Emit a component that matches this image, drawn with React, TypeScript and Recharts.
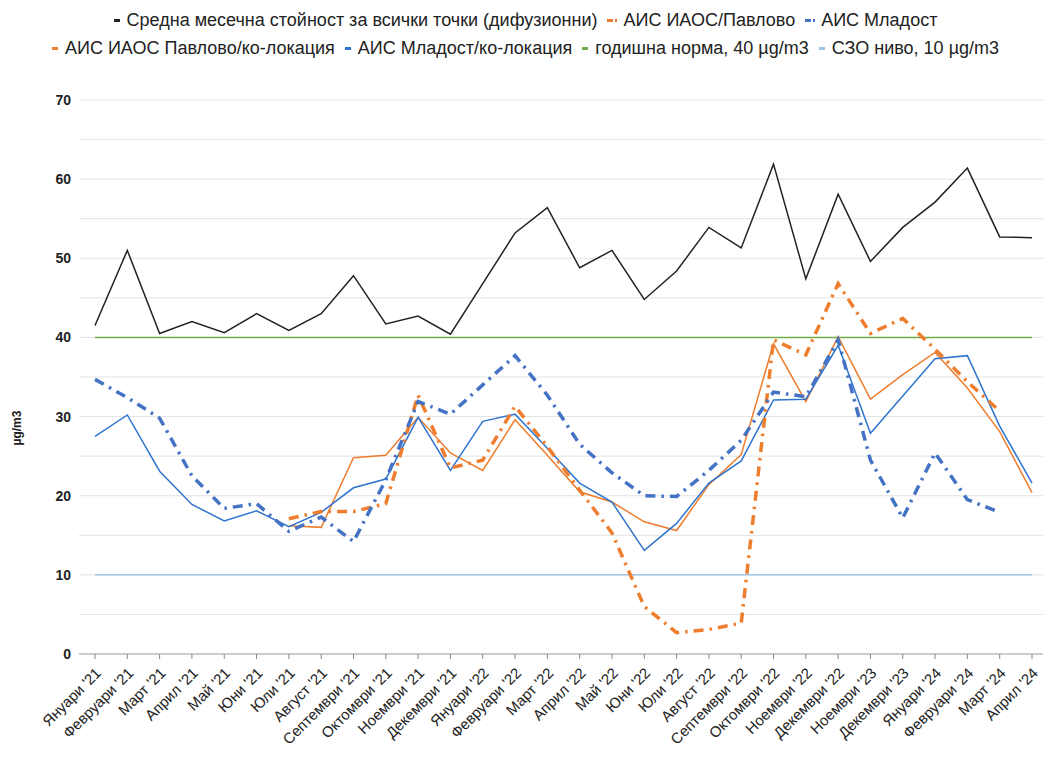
import React from 'react';
import { LineChart, Line, XAxis, YAxis, CartesianGrid } from 'recharts';

const months = [
  "Януари '21", "Февруари '21", "Март '21", "Април '21", "Май '21", "Юни '21",
  "Юли '21", "Август '21", "Септември '21", "Октомври '21", "Ноември '21", "Декември '21",
  "Януари '22", "Февруари '22", "Март '22", "Април '22", "Май '22", "Юни '22",
  "Юли '22", "Август '22", "Септември '22", "Октомври '22", "Ноември '22", "Декември '22",
  "Ноември '23", "Декември '23", "Януари '24", "Февруари '24", "Март '24", "Април '24",
];

const diffusionAvg = [
  41.5, 51.0, 40.5, 42.0, 40.6, 43.0, 40.9, 43.0, 47.8, 41.7, 42.7, 40.4,
  46.8, 53.2, 56.4, 48.8, 51.0, 44.8, 48.4, 53.9, 51.3, 61.9, 47.4, 58.1,
  49.6, 53.9, 57.1, 61.4, 52.7, 52.6,
];

const pavlovoAis = [
  null, null, null, null, null, null, 17.1, 18.0, 18.0, 19.0, 32.7, 23.5,
  24.5, 31.3, 26.2, 20.7, 15.3, 6.0, 2.7, 3.1, 3.9, 39.7, 37.8, 46.8,
  40.5, 42.4, 38.5, 34.4, 30.7, null,
];

const mladostAis = [
  34.7, 32.4, 29.8, 22.5, 18.4, 19.0, 15.5, 17.3, 14.2, 22.0, 31.9, 30.3,
  34.0, 37.7, 32.7, 26.5, 22.9, 20.0, 19.9, 23.2, 27.0, 33.1, 32.5, 39.7,
  24.5, 17.2, 25.4, 19.5, 17.9, null,
];

const pavlovoColoc = [
  null, null, null, null, null, null, 16.2, 16.0, 24.8, 25.1, 29.9, 25.4,
  23.2, 29.6, 25.1, 20.5, 19.2, 16.7, 15.6, 21.4, 25.2, 39.2, 31.9, 40.1,
  32.2, 35.3, 38.1, 33.6, 28.1, 20.4,
];

const mladostColoc = [
  27.5, 30.2, 23.1, 18.9, 16.8, 18.1, 16.1, 17.9, 21.0, 22.1, 29.9, 23.2,
  29.4, 30.3, 26.0, 21.6, 19.2, 13.1, 16.5, 21.6, 24.4, 32.1, 32.2, 39.0,
  27.9, 32.6, 37.3, 37.7, 28.8, 21.6,
];

const annualNorm = months.map(() => 40);
const whoLevel = months.map(() => 10);

const data = months.map((m, i) => ({
  month: m,
  avg: diffusionAvg[i],
  pavlovo: pavlovoAis[i],
  mladost: mladostAis[i],
  pavlovoColoc: pavlovoColoc[i],
  mladostColoc: mladostColoc[i],
  norm: annualNorm[i],
  who: whoLevel[i],
}));

const BLACK = '#222222';
const ORANGE = '#EF7D2E';
const BLUE_DASH = '#4472C4';
const BLUE = '#2F75CF';
const GREEN = '#70AD47';
const LIGHT_BLUE = '#9DC3E6';

const DASH = '10 6 2.5 6';
const FONT = "'Liberation Sans', Arial, sans-serif";

const legendRows = [
  [
    { name: 'Средна месечна стойност за всички точки (дифузионни)', color: BLACK, dashed: false },
    { name: 'АИС ИАОС/Павлово', color: ORANGE, dashed: true },
    { name: 'АИС Младост', color: BLUE_DASH, dashed: true },
  ],
  [
    { name: 'АИС ИАОС Павлово/ко-локация', color: ORANGE, dashed: false },
    { name: 'АИС Младост/ко-локация', color: BLUE, dashed: false },
    { name: 'годишна норма, 40 µg/m3', color: GREEN, dashed: false },
    { name: 'СЗО ниво, 10 µg/m3', color: LIGHT_BLUE, dashed: false },
  ],
];

const MonthTick = (props: any) => {
  const { x, y, payload } = props;
  return (
    <g transform={`translate(${x + 7},${y + 13})`}>
      <text x={0} y={0} transform="rotate(-45)" textAnchor="end" fill="#222" fontSize={15} fontFamily={FONT}>
        {payload.value}
      </text>
    </g>
  );
};

const App = () => {
  return (
    <div style={{ position: 'absolute', left: 0, top: 0, width: 1043, height: 761, background: '#fff' }}>
      <div
        style={{
          position: 'absolute',
          top: 6,
          left: 0,
          width: 1043,
          fontFamily: FONT,
          fontSize: 18,
          color: '#222',
        }}
      >
        {legendRows.map((row, ri) => (
          <div
            key={ri}
            style={{ display: 'flex', justifyContent: 'center', height: 28, alignItems: 'center', paddingLeft: 8 }}
          >
            {row.map((it) => (
              <div key={it.name} style={{ display: 'flex', alignItems: 'center', margin: '0 5px' }}>
                <span style={{ display: 'inline-block', width: 6, height: 3, background: it.color }} />
                {it.dashed && (
                  <span style={{ display: 'inline-block', width: 2, height: 3, marginLeft: 2, background: it.color }} />
                )}
                <span style={{ marginLeft: it.dashed ? 6 : 7 }}>{it.name}</span>
              </div>
            ))}
          </div>
        ))}
      </div>
      <LineChart
        width={1043}
        height={761}
        data={data}
        margin={{ top: 100, right: 0, bottom: 0, left: 0 }}
        style={{ position: 'absolute', left: 0, top: 0 }}
      >
        <CartesianGrid
          vertical={false}
          stroke="#e3e3e3"
          horizontalValues={[5, 10, 15, 20, 25, 30, 35, 40, 45, 50, 55, 60, 65, 70]}
        />
        <XAxis
          dataKey="month"
          interval={0}
          height={107}
          padding={{ left: 16, right: 11 }}
          axisLine={{ stroke: '#999' }}
          tickLine={{ stroke: '#888' }}
          tickSize={5}
          tick={<MonthTick />}
        />
        <YAxis
          width={79}
          domain={[0, 70]}
          ticks={[0, 10, 20, 30, 40, 50, 60, 70]}
          axisLine={false}
          tickLine={false}
          tickSize={0}
          tickMargin={8}
          tick={{ fill: '#222', fontSize: 14, fontWeight: 'bold', fontFamily: FONT }}
          label={{
            content: () => (
              <text
                x={21}
                y={428}
                transform="rotate(-90 21 428)"
                textAnchor="middle"
                fill="#222"
                fontSize={12}
                fontWeight="bold"
                fontFamily={FONT}
              >
                µg/m3
              </text>
            ),
          }}
        />
        <Line dataKey="norm" stroke={GREEN} strokeWidth={1.5} dot={false} isAnimationActive={false} />
        <Line dataKey="who" stroke={LIGHT_BLUE} strokeWidth={1.5} dot={false} isAnimationActive={false} />
        <Line dataKey="avg" stroke={BLACK} strokeWidth={1.5} dot={false} isAnimationActive={false} />
        <Line dataKey="pavlovoColoc" stroke={ORANGE} strokeWidth={1.5} dot={false} isAnimationActive={false} />
        <Line dataKey="mladostColoc" stroke={BLUE} strokeWidth={1.5} dot={false} isAnimationActive={false} />
        <Line
          dataKey="pavlovo"
          stroke={ORANGE}
          strokeWidth={3.5}
          strokeDasharray={DASH}
          dot={false}
          isAnimationActive={false}
        />
        <Line
          dataKey="mladost"
          stroke={BLUE_DASH}
          strokeWidth={3.5}
          strokeDasharray={DASH}
          dot={false}
          isAnimationActive={false}
        />
      </LineChart>
    </div>
  );
};

export default App;
